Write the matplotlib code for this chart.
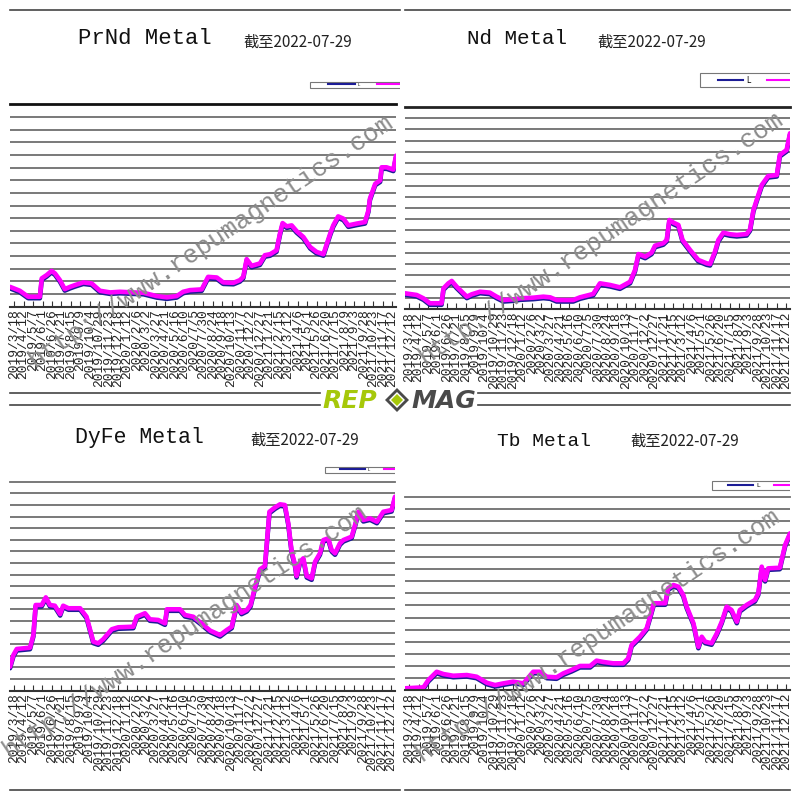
import numpy as np
import pandas as pd
import matplotlib
matplotlib.use("Agg")
import matplotlib.pyplot as plt
from matplotlib.lines import Line2D
from matplotlib.patches import Polygon
from matplotlib.legend_handler import HandlerLine2D
from matplotlib.transforms import Bbox, TransformedBbox, offset_copy

W, H = 800, 800
BASE = pd.Timestamp("2019-03-07")
END_DAY = 1021
BLUE = "#1c1c96"
MAGENTA = "#ff00ff"
GRID = "#6e6e6e"

tick_dates = [
    "2019/3/18", "2019/4/12", "2019/5/7", "2019/6/1", "2019/6/26", "2019/7/21",
    "2019/8/15", "2019/9/9", "2019/10/4", "2019/10/29", "2019/11/23", "2019/12/18",
    "2020/1/12", "2020/2/6", "2020/3/2", "2020/3/27", "2020/4/21", "2020/5/16",
    "2020/6/10", "2020/7/5", "2020/7/30", "2020/8/24", "2020/9/18", "2020/10/13",
    "2020/11/7", "2020/12/2", "2020/12/27", "2021/1/21", "2021/2/15", "2021/3/12",
    "2021/4/6", "2021/5/1", "2021/5/26", "2021/6/20", "2021/7/15", "2021/8/9",
    "2021/9/3", "2021/9/28", "2021/10/23", "2021/11/17", "2021/12/12",
]

# days since BASE, price in grid steps
prnd_day = [0, 26, 48, 79, 84, 97, 110, 119, 132, 145, 159, 172, 194, 216, 238, 265,
            291, 326, 353, 388, 415, 441, 458, 476, 507, 524, 547, 564, 591, 608, 617,
            626, 639, 661, 674, 688, 705, 714, 721, 732, 745, 758, 776, 794, 811, 829,
            847, 855, 868, 882, 895, 917, 939, 948, 952, 966, 979, 983, 996, 1014, 1021]
prnd_val = [1.57, 1.26, 0.79, 0.79, 2.24, 2.50, 2.83, 2.63, 2.10, 1.39, 1.57, 1.71,
            1.92, 1.84, 1.26, 1.13, 1.18, 1.13, 1.10, 0.84, 0.74, 0.84, 1.18, 1.31,
            1.37, 2.36, 2.31, 1.92, 1.89, 2.10, 2.36, 3.76, 3.23, 3.42, 4.07, 4.15,
            4.46, 5.78, 6.61, 6.35, 6.43, 5.98, 5.51, 4.72, 4.33, 4.15, 5.78, 6.43,
            7.14, 6.96, 6.43, 6.57, 6.69, 7.61, 8.54, 9.72, 9.98, 11.02, 11.02, 10.84,
            11.94]

nd_day = [0, 31, 49, 66, 97, 102, 115, 124, 137, 164, 177, 199, 225, 243, 261, 287,
          305, 340, 367, 385, 402, 446, 464, 499, 517, 544, 570, 597, 610, 619, 637,
          654, 663, 685, 694, 701, 712, 725, 736, 756, 778, 800, 809, 822, 831, 844,
          862, 880, 906, 915, 924, 937, 946, 963, 986, 994, 1012, 1021]
nd_val = [1.40, 1.25, 0.95, 0.51, 0.51, 1.84, 2.29, 2.50, 1.99, 1.10, 1.31, 1.54,
          1.46, 1.10, 0.80, 0.86, 0.95, 1.01, 1.10, 1.04, 0.80, 0.80, 1.04, 1.34,
          2.29, 2.14, 1.93, 2.43, 3.48, 4.90, 4.66, 5.02, 5.64, 5.86, 6.15, 7.93,
          7.69, 7.49, 6.15, 5.26, 4.37, 4.07, 4.01, 5.11, 6.15, 6.80, 6.66, 6.60,
          6.68, 7.10, 8.82, 10.16, 11.05, 11.85, 11.94, 13.73, 14.17, 15.66]

dyfe_day = [0, 9, 18, 53, 62, 68, 84, 95, 106, 119, 133, 141, 155, 186, 194, 203,
            221, 234, 247, 270, 287, 327, 336, 358, 371, 393, 411, 416, 451, 464, 486,
            508, 531, 557, 575, 588, 601, 614, 628, 638, 650, 663, 676, 688, 703, 716,
            729, 738, 747, 756, 760, 769, 778, 787, 800, 809, 822, 831, 844, 853, 862,
            875, 884, 906, 915, 924, 937, 955, 973, 990, 1012, 1021]
dyfe_val = [2.05, 3.06, 3.58, 3.69, 4.78, 7.37, 7.37, 8.03, 7.37, 7.31, 6.59, 7.31,
            7.09, 7.09, 6.74, 6.36, 4.21, 4.07, 4.41, 5.28, 5.45, 5.50, 6.36, 6.66,
            6.14, 6.08, 5.79, 7.00, 7.00, 6.51, 6.36, 5.79, 5.16, 4.78, 5.22, 5.50,
            7.37, 6.71, 6.94, 7.37, 8.95, 10.45, 10.73, 15.41, 15.79, 16.05, 15.99,
            14.41, 11.97, 10.82, 9.87, 11.10, 11.40, 9.87, 9.67, 11.10, 11.83, 12.97,
            13.12, 12.11, 11.83, 12.69, 12.97, 13.26, 14.27, 15.41, 14.70, 14.84,
            14.55, 15.41, 15.56, 16.71]

tb_day = [0, 49, 62, 84, 102, 128, 164, 190, 217, 239, 261, 287, 314, 340, 358, 376,
          402, 420, 442, 464, 491, 508, 526, 552, 579, 592, 601, 623, 641, 650, 660,
          690, 698, 712, 725, 738, 747, 765, 778, 787, 796, 813, 827, 840, 853, 866,
          880, 888, 906, 928, 937, 946, 955, 963, 994, 1008, 1021]
tb_val = [0.14, 0.22, 0.83, 1.51, 1.32, 1.18, 1.24, 1.10, 0.60, 0.41, 0.55, 0.69,
          0.55, 1.51, 1.51, 1.10, 1.05, 1.38, 1.66, 1.99, 1.99, 2.43, 2.32, 2.21,
          2.21, 2.62, 3.73, 4.41, 5.11, 6.07, 7.18, 7.18, 8.42, 8.69, 8.55, 7.86,
          6.90, 5.52, 3.58, 4.41, 4.00, 3.87, 4.69, 5.65, 6.90, 6.62, 5.65, 6.62,
          7.04, 7.45, 8.00, 10.21, 9.11, 10.07, 10.12, 12.00, 12.97]

subtitle = "截至2022-07-29"

panels = [
    # name, size, title xy, sub xy, data, axes px (x0, x1, top, bottom), steps,
    # top spine, legend (left, bottom, blue0, blue1, mag0, fs), clip x, watermark xy
    dict(name="PrNd Metal", size=16, txy=(78, 38), sxy=(243, 42),
         day=prnd_day, val=prnd_val, rect=(10, 396, 104.3, 306.7), steps=16,
         top=("#111111", 2.0), leg=(310, 88, 328, 355, 377, 3.0), clip=(0, 400),
         wm=(211, 241)),
    dict(name="Nd Metal", size=15, txy=(467, 38), sxy=(597, 42),
         day=nd_day, val=nd_val, rect=(405, 790, 107, 309), steps=18,
         top=("#222222", 2.0), leg=(700, 87, 718, 743, 767, 5.5), clip=(405, 790),
         wm=(601, 238)),
    dict(name="DyFe Metal", size=15.5, txy=(75, 437), sxy=(250, 440),
         day=dyfe_day, val=dyfe_val, rect=(10, 395, 481.7, 690.5), steps=18,
         top=(GRID, 1.3), leg=(325, 473, 340, 365, 376, 3.0), clip=(0, 395),
         wm=(185, 631)),
    dict(name="Tb Metal", size=14, txy=(497, 441), sxy=(630, 441),
         day=tb_day, val=tb_val, rect=(405, 790, 496.7, 690), steps=16,
         top=(GRID, 1.3), leg=(712, 490, 728, 753, 773, 4.5), clip=(405, 790),
         wm=(598, 635)),
]

tick_pos = [(pd.Timestamp(d.replace("/", "-")) - BASE).days for d in tick_dates]

fig = plt.figure(figsize=(W / 100, H / 100), dpi=100)
fig.patch.set_facecolor("white")


def fx(px):
    return px / W


def fy(py):
    return 1 - py / H


def add_legend(ax, leg, clip):
    left, bottom, b0, b1, m0, fs = leg
    fs_px = fs * 100 / 72
    bpad = 0.3
    pad_px = b0 - left - bpad * fs_px
    line_px = b1 - b0
    htp = 3.0 / fs_px
    col1_end = b1 + htp * fs_px + 0.6 * fs_px
    colsp = max(0.0, (m0 - pad_px) - col1_end) / fs_px
    handles = [Line2D([], [], color=BLUE, lw=1.5), Line2D([], [], color=MAGENTA, lw=1.5)]
    lg = ax.legend(handles, ["L", "H"], ncol=2, loc="lower left",
                   bbox_to_anchor=(fx(left), fy(bottom)), bbox_transform=fig.transFigure,
                   fontsize=fs, frameon=True, fancybox=False, edgecolor="#555555",
                   borderpad=bpad, borderaxespad=0, handlelength=(pad_px + line_px) / fs_px,
                   handletextpad=htp, columnspacing=colsp,
                   handler_map={Line2D: HandlerLine2D(xpad=pad_px / fs_px)})
    lg.get_frame().set_linewidth(0.8)
    box = TransformedBbox(Bbox([[fx(clip[0]), 0], [fx(clip[1]), 1]]), fig.transFigure)
    for a in lg.findobj():
        a.set_clip_box(box)
        a.set_clip_on(True)


for p in panels:
    x0, x1, top, bot = p["rect"]
    ax = fig.add_axes([fx(x0), fy(bot), (x1 - x0) / W, (bot - top) / H])
    ax.set_xlim(0, END_DAY)
    ax.set_ylim(0, p["steps"])
    ax.set_axisbelow(True)
    ax.set_yticks(range(1, p["steps"]))
    ax.yaxis.grid(True, color=GRID, lw=1.3)
    ax.tick_params(axis="y", left=False, labelleft=False)
    ax.spines["left"].set_visible(False)
    ax.spines["right"].set_visible(False)
    ax.spines["top"].set_color(p["top"][0])
    ax.spines["top"].set_linewidth(p["top"][1])
    ax.spines["bottom"].set_color("#333333")
    ax.spines["bottom"].set_linewidth(1.5)
    ax.set_xticks(tick_pos)
    ax.set_xticklabels(tick_dates, rotation=90, fontsize=9.3, family="Liberation Mono",
                       color="#222222")
    ax.tick_params(axis="x", direction="in", length=4, width=0.8, color="#333333", pad=2)

    shadow = offset_copy(ax.transData, fig=fig, x=0, y=-1.5, units="dots")
    ax.plot(p["day"], p["val"], color=BLUE, lw=3.3, transform=shadow,
            solid_joinstyle="round", solid_capstyle="round")
    ax.plot(p["day"], p["val"], color=MAGENTA, lw=3.3,
            solid_joinstyle="round", solid_capstyle="round")

    add_legend(ax, p["leg"], p["clip"])

    tx, ty = p["txy"]
    fig.text(fx(tx), fy(ty), p["name"], ha="left", va="center", fontsize=p["size"],
             family="Liberation Mono", color="#111111")
    sx, sy = p["sxy"]
    fig.text(fx(sx), fy(sy), subtitle, ha="left", va="center", fontsize=11,
             family=["Noto Sans CJK SC", "DejaVu Sans"], color="#222222")

    wx, wy = p["wm"]
    fig.text(fx(wx), fy(wy), "http://www.repumagnetics.com", ha="center", va="center",
             rotation=34, rotation_mode="anchor", fontsize=18.5,
             family="Liberation Mono", color="#8c8c8c", zorder=5)

# panel border lines
for (a, b, y) in [(10, 400, 10), (405, 790, 10), (10, 320, 393), (478, 790, 393),
                  (10, 320, 405), (478, 790, 405), (10, 400, 790), (405, 790, 790)]:
    fig.add_artist(Line2D([fx(a), fx(b)], [fy(y), fy(y)], transform=fig.transFigure,
                          color="#444444", lw=1.2))

# logo
fig.text(fx(322), fy(401), "REP", ha="left", va="center", fontsize=18,
         fontweight="bold", fontstyle="italic", color="#a6c80a", family="DejaVu Sans")
fig.text(fx(411), fy(401), "MAG", ha="left", va="center", fontsize=18,
         fontweight="bold", fontstyle="italic", color="#4a4a4a", family="DejaVu Sans")
cx, cy = 397, 400
for r, col in [(12, "#4a4a4a"), (8, "white"), (6, "#a6c80a")]:
    fig.add_artist(Polygon([(fx(cx), fy(cy - r)), (fx(cx + r), fy(cy)),
                            (fx(cx), fy(cy + r)), (fx(cx - r), fy(cy))],
                           closed=True, transform=fig.transFigure, color=col, lw=0))

fig.savefig("out.png", dpi=100)
